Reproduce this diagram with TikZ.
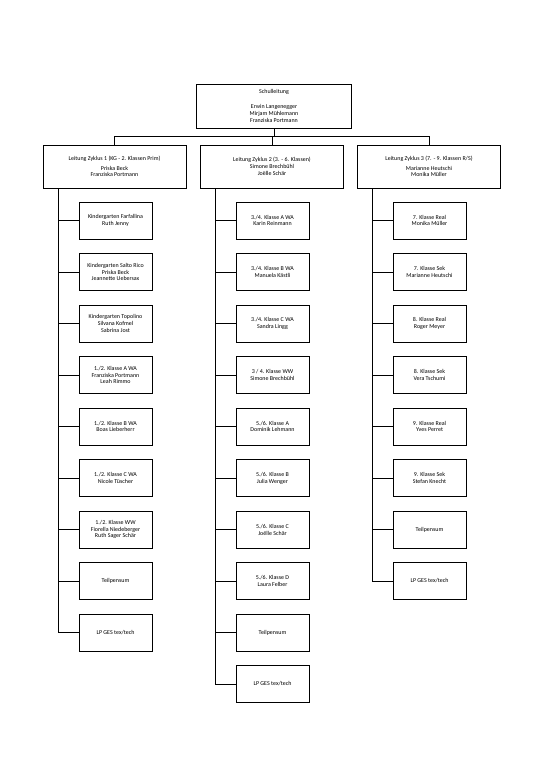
\documentclass[tikz,border=0pt]{standalone}
\usepackage{fontspec}
\setmainfont{Carlito}
\usepackage{tikz}

\begin{document}
\begin{tikzpicture}[x=1.1044pt, y=-1.1044pt, line width=0.9pt,
    font=\fontsize{6.6}{7.6}\selectfont,
    box/.style={draw, align=center, inner sep=1pt},
    lead/.style={box, minimum width=158pt, minimum height=47.5pt},
    unit/.style={box, minimum width=80.6pt, minimum height=40.9pt}]
                \useasboundingbox (0, 0) rectangle (539, 762);
                \node[box, minimum width=172pt, minimum height=48.6pt] (sl) at (274, 106) {Schulleitung\\[9pt] Erwin Langenegger\\ Mirjam Mühlemann\\ Franziska Portmann};
                \node[lead] (z1) at (114.5, 166.5) {Leitung Zyklus 1 (KG - 2. Klassen Prim)\\[3pt] Priska Beck\\ Franziska Portmann};
                \node[lead] (z2) at (272, 166.5) {Leitung Zyklus 2 (3. - 6. Klassen)\\ Simone Brechbühl\\ Joëlle Schär};
                \node[lead] (z3) at (429, 166.5) {Leitung Zyklus 3 (7. - 9. Klassen R/S)\\[3pt] Marianne Heutschi\\ Monika Müller};
                \coordinate (bus) at (274, 136);
                \coordinate (s1) at (58, 188);
                \coordinate (s2) at (215, 188);
                \coordinate (s3) at (372, 188);
                % Zyklus 1
                \node[unit] (a1) at (115.5, 220.5) {Kindergarten Farfallina\\ Ruth Jenny};
                \node[unit] (a2) at (115.5, 272) {Kindergarten Salto Rico\\ Priska Beck\\ Jeannette Uebersax};
                \node[unit] (a3) at (115.5, 323.5) {Kindergarten Topolino\\ Silvana Kofmel\\ Sabrina Jost};
                \node[unit] (a4) at (115.5, 375) {1./2. Klasse A WA\\ Franziska Portmann\\ Leah Rimmo};
                \node[unit] (a5) at (115.5, 426.5) {1./2. Klasse B WA\\ Boas Lieberherr};
                \node[unit] (a6) at (115.5, 478) {1./2. Klasse C WA\\ Nicole Tüscher};
                \node[unit] (a7) at (115.5, 529.5) {1./2. Klasse WW\\ Fiorella Niedeberger\\ Ruth Sager Schär};
                \node[unit] (a8) at (115.5, 581) {Teilpensum};
                \node[unit] (a9) at (115.5, 632.5) {LP GES tex/tech};
                % Zyklus 2
                \node[unit] (b1) at (272.5, 220.5) {3./4. Klasse A WA\\ Karin Reinmann};
                \node[unit] (b2) at (272.5, 272) {3./4. Klasse B WA\\ Manuela Kästli};
                \node[unit] (b3) at (272.5, 323.5) {3./4. Klasse C WA\\ Sandra Lingg};
                \node[unit] (b4) at (272.5, 375) {3 / 4. Klasse WW\\ Simone Brechbühl};
                \node[unit] (b5) at (272.5, 426.5) {5./6. Klasse A\\ Dominik Lehmann};
                \node[unit] (b6) at (272.5, 478) {5./6. Klasse B\\ Julia Wenger};
                \node[unit] (b7) at (272.5, 529.5) {5./6. Klasse C\\ Joëlle Schär};
                \node[unit] (b8) at (272.5, 581) {5./6. Klasse D\\ Laura Felber};
                \node[unit] (b9) at (272.5, 632.5) {Teilpensum};
                \node[unit] (b10) at (272.5, 684) {LP GES tex/tech};
                % Zyklus 3
                \node[unit] (c1) at (429.5, 220.5) {7. Klasse Real\\ Monika Müller};
                \node[unit] (c2) at (429.5, 272) {7. Klasse Sek\\ Marianne Heutschi};
                \node[unit] (c3) at (429.5, 323.5) {8. Klasse Real\\ Roger Meyer};
                \node[unit] (c4) at (429.5, 375) {8. Klasse Sek\\ Vera Tschumi};
                \node[unit] (c5) at (429.5, 426.5) {9. Klasse Real\\ Yves Perret};
                \node[unit] (c6) at (429.5, 478) {9. Klasse Sek\\ Stefan Knecht};
                \node[unit] (c7) at (429.5, 529.5) {Teilpensum};
                \node[unit] (c8) at (429.5, 581) {LP GES tex/tech};
                \draw (sl.south) -- (bus) -| (z1.north)
                      (bus) -| (z2.north)
                      (bus) -| (z3.north);
                \draw (s1) |- (a1.west) (s1) |- (a2.west) (s1) |- (a3.west)
                      (s1) |- (a4.west) (s1) |- (a5.west) (s1) |- (a6.west)
                      (s1) |- (a7.west) (s1) |- (a8.west) (s1) |- (a9.west);
                \draw (s2) |- (b1.west) (s2) |- (b2.west) (s2) |- (b3.west)
                      (s2) |- (b4.west) (s2) |- (b5.west) (s2) |- (b6.west)
                      (s2) |- (b7.west) (s2) |- (b8.west) (s2) |- (b9.west)
                      (s2) |- (b10.west);
                \draw (s3) |- (c1.west) (s3) |- (c2.west) (s3) |- (c3.west)
                      (s3) |- (c4.west) (s3) |- (c5.west) (s3) |- (c6.west)
                      (s3) |- (c7.west) (s3) |- (c8.west);
            \end{tikzpicture}
\end{document}
